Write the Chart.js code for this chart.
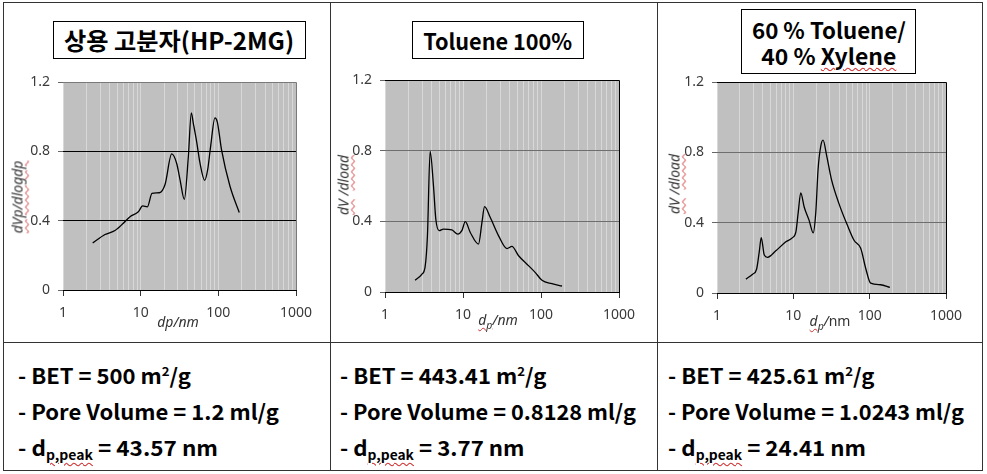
<!DOCTYPE html>
<html><head><meta charset="utf-8">
<script src="https://cdn.jsdelivr.net/npm/chart.js@4.4.1/dist/chart.umd.min.js"></script>
<style>
html,body{margin:0;padding:0;}
body{width:987px;height:474px;background:#fff;overflow:hidden;position:relative;font-family:"Noto Sans",sans-serif;}
canvas{position:absolute;}
.hl{position:absolute;height:1px;background:#333;}
.vl{position:absolute;width:1px;background:#333;}
.tbox{position:absolute;border:1.5px solid #000;background:#fff;box-sizing:border-box;display:flex;flex-direction:column;align-items:center;justify-content:center;font-family:"Noto Sans CJK KR",sans-serif;font-weight:700;color:#000;line-height:26px;}
.fit{display:inline-block;white-space:nowrap;transform-origin:center center;}
.ytitle{position:absolute;transform:translate(-50%,-50%) rotate(-90deg);font-style:italic;font-size:14px;color:#333;white-space:nowrap;}
.xtitle{position:absolute;transform:translate(-50%,-50%);font-style:italic;font-size:14px;color:#333;white-space:nowrap;}
.wavy{text-decoration:underline wavy #d03030;text-decoration-thickness:1px;text-underline-offset:2px;}
.row{position:absolute;font-family:"Noto Sans CJK KR",sans-serif;font-weight:700;font-size:21px;white-space:nowrap;transform-origin:left center;color:#000;line-height:1;}
.row sup{font-size:0.6em;vertical-align:0.6em;line-height:0;}
.row sub{font-size:0.62em;vertical-align:-0.35em;line-height:0;}
</style></head>
<body>
<div id="root"></div>
<script>
// ---------------- data ----------------
const panelTitles = ['상용 고분자(HP-2MG)', 'Toluene 100%', '60 % Toluene/', '40 % Xylene'];
const xTickVals = [1, 10, 100, 1000];
const xTickLabels = ['1', '10', '100', '1000'];
const yTickVals = [0, 0.4, 0.8, 1.2];
const yTickLabels = ['0', '0.4', '0.8', '1.2'];

// Panel 1: 상용 고분자(HP-2MG)
const hpX = [2.41,3.47,4.67,5.98,7.3,9.33,10.6,12.2,14.0,17.4,20.6,25.1,29.1,32.1,36.5,41.1,44.9,47.7,52.6,58.1,66.7,72.9,79.5,90.5,97.1,110,141,186];
const hpY = [0.271,0.32,0.343,0.385,0.423,0.451,0.485,0.48,0.557,0.561,0.609,0.785,0.73,0.637,0.523,0.77,1.022,0.96,0.855,0.732,0.633,0.694,0.827,0.993,0.969,0.808,0.6,0.447];
// Panel 2: Toluene 100%
const tolX = [2.43,2.96,3.27,3.5,3.79,4.18,4.48,4.94,5.61,7.19,8.59,9.66,10.7,12.4,15.8,17.5,18.9,22.3,28.6,36.6,42.4,51.6,69.5,84.6,103,138,186];
const tolY = [0.066,0.10,0.144,0.318,0.796,0.603,0.413,0.347,0.356,0.351,0.328,0.347,0.398,0.337,0.271,0.394,0.483,0.423,0.318,0.246,0.258,0.205,0.148,0.110,0.066,0.047,0.034];
// Panel 3: 60 % Toluene / 40 % Xylene
const mixX = [2.39,2.93,3.3,3.58,3.8,4.16,4.6,5.9,7.98,9.75,10.8,11.6,12.5,13.9,16.1,18.2,19.7,21.1,22.9,24.5,27.4,31.5,39.7,51.1,62.4,76.3,88.7,103,139,184];
const mixY = [0.079,0.107,0.135,0.235,0.315,0.216,0.203,0.240,0.291,0.315,0.347,0.46,0.569,0.488,0.413,0.342,0.46,0.704,0.836,0.869,0.779,0.648,0.507,0.385,0.300,0.254,0.141,0.056,0.047,0.032];

const betValues = ['500', '443.41', '425.61'];
const poreVolumes = ['1.2', '0.8128', '1.0243'];
const peakDiameters = ['43.57', '3.77', '24.41'];

// ---------------- layout ----------------
const root = document.getElementById('root');
function el(tag, cls, style, html){ const e=document.createElement(tag); if(cls) e.className=cls; Object.assign(e.style, style||{}); if(html!==undefined) e.innerHTML=html; root.appendChild(e); return e; }

// frame lines
el('div','hl',{left:'3px',top:'2px',width:'980px'});
el('div','hl',{left:'3px',top:'342px',width:'980px'});
el('div','hl',{left:'3px',top:'470px',width:'980px'});
el('div','vl',{left:'3px',top:'2px',height:'469px'});
el('div','vl',{left:'330px',top:'2px',height:'469px'});
el('div','vl',{left:'657px',top:'2px',height:'469px'});
el('div','vl',{left:'982px',top:'2px',height:'469px'});

const panels = [
  {xs:hpX, ys:hpY, area:{L:63,R:296,T:82,B:290}, hcol:'#000', bcol:'#7a7a7a'},
  {xs:tolX, ys:tolY, area:{L:385,R:619,T:80,B:292}, hcol:'#6e6e6e', bcol:'#000'},
  {xs:mixX, ys:mixY, area:{L:717,R:946,T:82,B:293}, hcol:'#6e6e6e', bcol:'#000'}
];

const xGridVals = [];
[1,10,100].forEach(d => { for (let s=1; s<10; s++) xGridVals.push(s*d); });
xGridVals.push(1000);
const isDecade = v => xTickVals.some(t => Math.abs(t - v) < 1e-9);

const bgPlugin = {
  id: 'plotbg',
  beforeDraw(chart, args, o) {
    const a = chart.chartArea, c = chart.ctx;
    c.save(); c.fillStyle = o.color; c.fillRect(a.left, a.top, a.right-a.left, a.bottom-a.top); c.restore();
  },
  afterDraw(chart, args, o) {
    const a = chart.chartArea, c = chart.ctx;
    c.save(); c.strokeStyle = o.border; c.lineWidth = 1;
    c.beginPath();
    c.moveTo(a.left, a.top+0.5); c.lineTo(a.right+0.5, a.top+0.5); c.lineTo(a.right+0.5, a.bottom);
    c.stroke(); c.restore();
  }
};

const YW = 60, XH = 45, PT = 20, PR = 35;
panels.forEach((p) => {
  const A = p.area;
  const cv = document.createElement('canvas');
  const w = A.R - A.L + YW + PR, h = A.B - A.T + PT + XH;
  cv.width = w; cv.height = h;
  cv.style.left = (A.L - YW) + 'px'; cv.style.top = (A.T - PT) + 'px';
  cv.style.width = w + 'px'; cv.style.height = h + 'px';
  root.appendChild(cv);
  new Chart(cv, {
    type: 'line',
    data: { datasets: [{
      data: p.xs.map((x,i) => ({x, y: p.ys[i]})),
      borderColor: '#000', borderWidth: 1.3, pointRadius: 0,
      cubicInterpolationMode: 'monotone', fill: false
    }]},
    plugins: [bgPlugin],
    options: {
      responsive: false, animation: false, devicePixelRatio: 1,
      layout: { padding: {left:0, top:PT, right:PR, bottom:0} },
      plugins: { legend:{display:false}, tooltip:{enabled:false}, plotbg:{color:'#c0c0c0', border:p.bcol} },
      scales: {
        x: {
          type: 'logarithmic', min: 1, max: 1000,
          afterFit: s => { s.height = XH; },
          afterBuildTicks: s => { s.ticks = xGridVals.map(v => ({value: v})); },
          ticks: { autoSkip:false, maxRotation:0, padding:9, color:'#3a3a3a', font:{family:'Noto Sans', size:14},
            callback: v => { const i = xTickVals.findIndex(t => Math.abs(t-v) < 1e-9); return i >= 0 ? xTickLabels[i] : ''; } },
          grid: { color: 'rgba(255,255,255,0.38)', lineWidth: 1, tickLength: 6,
            tickColor: ctx => (ctx.tick && isDecade(ctx.tick.value)) ? '#333' : 'rgba(0,0,0,0)' },
          border: { color:'#000', width:1 }
        },
        y: {
          type: 'linear', min: 0, max: 1.2,
          afterFit: s => { s.width = YW; },
          afterBuildTicks: s => { s.ticks = yTickVals.map(v => ({value: v})); },
          ticks: { padding:8, color:'#3a3a3a', font:{family:'Noto Sans', size:14},
            callback: (v, i) => yTickLabels[i] },
          grid: { lineWidth: 1, tickLength: 5, tickColor:'#666',
            color: ctx => (ctx.tick && ctx.tick.value > 0.01 && ctx.tick.value < 1.19) ? p.hcol : 'rgba(0,0,0,0)' },
          border: { display:false }
        }
      }
    }
  });
});

// title boxes
const t1 = el('div','tbox',{left:'53px',top:'21px',width:'253px',height:'38px',fontSize:'24px'});
t1.innerHTML = '<span class="fit" data-w="230">'+panelTitles[0]+'</span>';
const t2 = el('div','tbox',{left:'412px',top:'21px',width:'172px',height:'38px',fontSize:'22px'});
t2.innerHTML = '<span class="fit" data-w="149">'+panelTitles[1]+'</span>';
const t3 = el('div','tbox',{left:'741px',top:'9px',width:'175px',height:'65px',fontSize:'22px'});
t3.innerHTML = '<span class="fit" data-w="154">'+panelTitles[2]+'</span><span class="fit" data-w="135">'+panelTitles[3].replace('Xylene','<span class="wavy">Xylene</span>')+'</span>';

// axis titles
el('div','ytitle',{left:'17px',top:'197px'},'<span class="wavy">dVp/dlogdp</span>');
el('div','ytitle',{left:'343px',top:'185px'},'<span class="wavy">dV</span> /<span class="wavy">dload</span>');
el('div','ytitle',{left:'674px',top:'184px'},'<span class="wavy">dV</span> /<span class="wavy">dload</span>');
el('div','xtitle',{left:'178px',top:'321px'},'dp/nm');
el('div','xtitle',{left:'498px',top:'321px'},'<span class="wavy">d<sub style="font-size:0.75em">p</sub></span>/nm');
el('div','xtitle',{left:'830px',top:'322px'},'<span class="wavy">d<sub style="font-size:0.75em">p</sub></span>/<span style="font-style:normal">nm</span>');

// table rows
const colX = [18, 340, 668];
const rowY = [375, 411, 447];
const rowW = [[173,261,200],[206.5,296,184.5],[206.5,296,198]];
for (let c = 0; c < 3; c++) {
  const lines = [
    '- BET = ' + betValues[c] + ' m<sup>2</sup>/g',
    '- Pore Volume = ' + poreVolumes[c] + ' ml/g',
    '- d<sub class="wavy">p,peak</sub> = ' + peakDiameters[c] + ' nm'
  ];
  lines.forEach((h, r) => {
    const e = el('div','row',{left: colX[c]+'px', top: rowY[r]+'px'}, h);
    e.dataset.w = rowW[c][r];
  });
}

function fitAll(){
  document.querySelectorAll('.fit').forEach(e => {
    e.style.transform = 'none';
    const nat = e.getBoundingClientRect().width;
    e.style.transform = 'scaleX(' + (parseFloat(e.dataset.w)/nat) + ')';
  });
  document.querySelectorAll('.row').forEach(e => {
    e.style.transform = 'none';
    const nat = e.getBoundingClientRect().width;
    e.style.transform = 'translateY(-50%) scaleX(' + (parseFloat(e.dataset.w)/nat) + ')';
  });
}
fitAll();
if (document.fonts && document.fonts.ready) document.fonts.ready.then(fitAll);
</script>
</body></html>
